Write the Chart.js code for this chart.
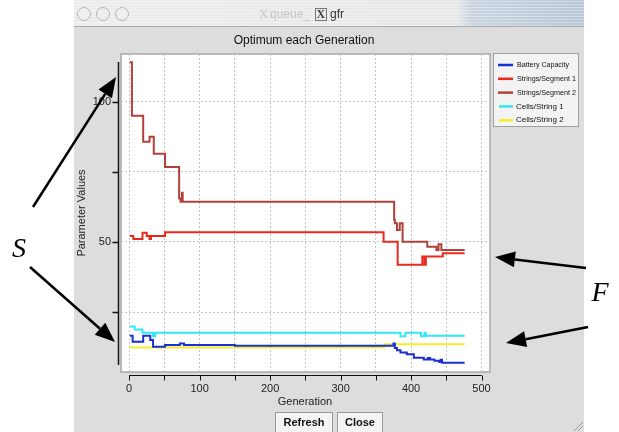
<!DOCTYPE html>
<html lang="en">
  <head>
    <meta charset="UTF-8" />
    <title>gfr</title>
    <script src="https://cdn.jsdelivr.net/npm/chart.js"></script>
    <style>
      html, body { margin: 0; padding: 0; background: #ffffff; }
      #wrap { width: 619px; height: 432px; }
    </style>
  </head>
  <body>
    <div id="wrap">
      <canvas id="gfrChart" width="619" height="432"></canvas>
    </div>
  </body>
</html>

<script>
  // Serie: Battery Capacity
  var batteryGen = [1, 5, 20, 30, 34, 51, 72, 78, 150, 375, 377, 380, 385, 394, 404, 418, 424, 427, 433, 440, 442, 444, 476];
  var batteryVal = [16.5, 14.4, 16.5, 15.0, 12.6, 13.2, 13.8, 13.2, 13.0, 13.8, 12.2, 11.4, 10.6, 9.9, 8.7, 8.1, 8.6, 8.1, 7.6, 7.2, 8.0, 6.9, 6.9];

  // Serie: Strings/Segment 1
  var seg1Gen = [1, 6, 19, 25, 29, 31, 51, 361, 381, 416, 419, 421, 445, 476];
  var seg1Val = [52.1, 51.1, 53.3, 52.1, 51.1, 52.1, 53.5, 50.1, 41.9, 44.8, 41.9, 44.8, 46.0, 46.0];

  // Serie: Strings/Segment 2
  var seg2Gen = [1, 4, 20, 29, 35, 51, 71, 73, 75, 76, 376, 377, 380, 384, 388, 423, 436, 439, 443, 476];
  var seg2Val = [114.2, 95.1, 85.8, 87.6, 81.5, 76.8, 65.5, 64.4, 67.6, 64.4, 57.9, 56.7, 54.3, 56.7, 50.1, 48.3, 47.1, 49.2, 47.1, 47.1];

  // Serie: Cells/String 1
  var cells1Gen = [1, 8, 19, 34, 37, 385, 392, 414, 419, 421, 476];
  var cells1Val = [19.8, 18.8, 17.6, 16.4, 17.6, 16.4, 17.6, 16.4, 17.6, 16.5, 16.5];

  // Serie: Cells/String 2
  var cells2Gen = [1, 362, 476];
  var cells2Val = [12.3, 13.5, 13.5];

  var xTicks = [0, 100, 200, 300, 400, 500];
  var yTicks = [50, 100];

  function pares(gens, vals) {
    return gens.map(function (g, i) { return { x: g, y: vals[i] }; });
  }

  function serie(label, gens, vals, cor) {
    return {
      label: label,
      data: pares(gens, vals),
      borderColor: cor,
      backgroundColor: cor,
      borderWidth: 2,
      pointRadius: 0,
      stepped: true,
      fill: false,
    };
  }

  function arrow(ctx, x1, y1, x2, y2) {
    var ang = Math.atan2(y2 - y1, x2 - x1);
    var len = 20, half = 8;
    var bx = x2 - len * Math.cos(ang), by = y2 - len * Math.sin(ang);
    ctx.strokeStyle = "#000";
    ctx.lineWidth = 2.5;
    ctx.beginPath();
    ctx.moveTo(x1, y1);
    ctx.lineTo(bx, by);
    ctx.stroke();
    ctx.fillStyle = "#000";
    ctx.beginPath();
    ctx.moveTo(x2, y2);
    ctx.lineTo(bx + half * Math.sin(ang), by - half * Math.cos(ang));
    ctx.lineTo(bx - half * Math.sin(ang), by + half * Math.cos(ang));
    ctx.closePath();
    ctx.fill();
  }

  function botao(ctx, x, y, w, h, txt) {
    ctx.fillStyle = "#f4f4f4";
    ctx.fillRect(x, y, w, h);
    ctx.strokeStyle = "#9a9a9a";
    ctx.lineWidth = 1;
    ctx.strokeRect(x + 0.5, y + 0.5, w - 1, h);
    ctx.fillStyle = "#111";
    ctx.font = "bold 11px 'Liberation Sans', Arial, sans-serif";
    ctx.textAlign = "center";
    ctx.textBaseline = "middle";
    ctx.fillText(txt, x + w / 2, y + 11);
  }

  // Janela, caixa do gráfico, eixos, legenda e anotações
  var janela = {
    id: "janela",
    beforeDraw: function (chart) {
      var ctx = chart.ctx, a = chart.chartArea;
      ctx.save();
      ctx.fillStyle = "#ffffff";
      ctx.fillRect(0, 0, chart.width, chart.height);

      // fundo da janela
      ctx.fillStyle = "#dddddd";
      ctx.fillRect(74, 0, 510, 432);

      // barra de título
      var g = ctx.createLinearGradient(74, 0, 584, 0);
      g.addColorStop(0, "#ececec");
      g.addColorStop(0.75, "#e8e8e8");
      g.addColorStop(0.78, "#c9d4e0");
      g.addColorStop(1, "#b8c6d6");
      ctx.fillStyle = g;
      ctx.fillRect(74, 0, 510, 26);
      ctx.fillStyle = "rgba(255,255,255,0.35)";
      for (var sy = 1; sy < 26; sy += 3) ctx.fillRect(74, sy, 510, 1);
      ctx.fillStyle = "#a9a9a9";
      ctx.fillRect(74, 26, 510, 1);

      [84, 103, 122].forEach(function (cx) {
        ctx.beginPath();
        ctx.arc(cx, 14, 6.5, 0, Math.PI * 2);
        ctx.fillStyle = "#efefef";
        ctx.fill();
        ctx.strokeStyle = "#b4b4b4";
        ctx.lineWidth = 1;
        ctx.stroke();
      });

      ctx.textBaseline = "middle";
      ctx.textAlign = "left";
      ctx.font = "13px 'Liberation Serif', serif";
      ctx.fillStyle = "#c4c4c4";
      ctx.fillText("X", 259, 15);
      ctx.font = "12px 'Liberation Sans', Arial, sans-serif";
      ctx.fillText("queue_", 270, 15);
      ctx.strokeStyle = "#777";
      ctx.strokeRect(315.5, 8.5, 11, 12);
      ctx.font = "bold 12px 'Liberation Serif', serif";
      ctx.fillStyle = "#444";
      ctx.fillText("X", 316.5, 15);
      ctx.font = "12px 'Liberation Sans', Arial, sans-serif";
      ctx.fillStyle = "#333";
      ctx.fillText("gfr", 330, 15);

      // caixa branca do gráfico
      ctx.fillStyle = "#ffffff";
      ctx.fillRect(a.left, a.top, a.right - a.left, a.bottom - a.top);
      ctx.strokeStyle = "#a8a8a8";
      ctx.lineWidth = 1.5;
      ctx.strokeRect(a.left, a.top, a.right - a.left, a.bottom - a.top);
      ctx.restore();
    },
    afterDraw: function (chart) {
      var ctx = chart.ctx, a = chart.chartArea;
      var xs = chart.scales.x, ys = chart.scales.y;
      ctx.save();

      // título
      ctx.fillStyle = "#111";
      ctx.font = "12px 'Liberation Sans', Arial, sans-serif";
      ctx.textAlign = "center";
      ctx.textBaseline = "middle";
      ctx.fillText("Optimum each Generation", 304, 41);

      // eixo x
      var yx = a.bottom + 3.5;
      ctx.strokeStyle = "#111";
      ctx.lineWidth = 1;
      ctx.beginPath();
      ctx.moveTo(xs.getPixelForValue(0), yx);
      ctx.lineTo(xs.getPixelForValue(500), yx);
      xs.ticks.forEach(function (t) {
        var px = Math.round(xs.getPixelForValue(t.value)) + 0.5;
        ctx.moveTo(px, yx);
        ctx.lineTo(px, yx + 5);
      });
      ctx.stroke();

      // eixo y
      var xy = a.left - 2.5;
      ctx.beginPath();
      ctx.moveTo(xy, a.top + 8);
      ctx.lineTo(xy, a.bottom - 7);
      ys.ticks.forEach(function (t) {
        var py = Math.round(ys.getPixelForValue(t.value)) + 0.5;
        ctx.moveTo(xy, py);
        ctx.lineTo(xy - 6, py);
      });
      ctx.lineWidth = 1.5;
      ctx.stroke();

      // títulos dos eixos
      ctx.fillStyle = "#222";
      ctx.font = "11px 'Liberation Sans', Arial, sans-serif";
      ctx.fillText("Generation", 305, 402);
      ctx.save();
      ctx.translate(82, 213);
      ctx.rotate(-Math.PI / 2);
      ctx.fillText("Parameter Values", 0, 0);
      ctx.restore();

      // legenda
      ctx.fillStyle = "#f3f3f3";
      ctx.fillRect(493, 53, 85, 73);
      ctx.strokeStyle = "#a0a0a0";
      ctx.lineWidth = 1;
      ctx.strokeRect(493.5, 53.5, 85, 73);
      ctx.textAlign = "left";
      ctx.font = "8px 'Liberation Sans', Arial, sans-serif";
      chart.data.datasets.forEach(function (ds, i) {
        var ly = 65 + i * 13.8;
        ctx.strokeStyle = ds.borderColor;
        ctx.lineWidth = 2.5;
        ctx.beginPath();
        ctx.moveTo(i < 3 ? 498 : 499, ly);
        ctx.lineTo(513, ly);
        ctx.stroke();
        ctx.fillStyle = "#111";
        ctx.fillText(ds.label, i < 3 ? 517 : 516, ly, i === 0 ? 52 : 59);
      });

      // botões
      botao(ctx, 275, 412, 58, 22, "Refresh");
      botao(ctx, 337, 412, 46, 22, "Close");

      // alça de redimensionar
      ctx.strokeStyle = "#9a9a9a";
      ctx.lineWidth = 1;
      ctx.beginPath();
      ctx.moveTo(574, 431); ctx.lineTo(583, 422);
      ctx.moveTo(578, 431); ctx.lineTo(583, 426);
      ctx.stroke();

      // anotações S e F
      ctx.fillStyle = "#000";
      ctx.font = "italic 28px 'Liberation Serif', 'Times New Roman', serif";
      ctx.textAlign = "center";
      ctx.fillText("S", 19, 250);
      ctx.fillText("F", 600, 294);
      arrow(ctx, 33, 207, 116, 77);
      arrow(ctx, 30, 267, 115, 342);
      arrow(ctx, 586, 268, 495, 257);
      arrow(ctx, 588, 327, 506, 343);
      ctx.restore();
    },
  };

  var ctxGfr = document.getElementById("gfrChart").getContext("2d");
  let graficoGfr = new Chart(ctxGfr, {
    type: "line",
    data: {
      datasets: [
        serie("Battery Capacity", batteryGen, batteryVal, "#1a2fd2"),
        serie("Strings/Segment 1", seg1Gen, seg1Val, "#e8291c"),
        serie("Strings/Segment 2", seg2Gen, seg2Val, "#b2403a"),
        serie("Cells/String 1", cells1Gen, cells1Val, "#2ee8f2"),
        serie("Cells/String 2", cells2Gen, cells2Val, "#f4ee2a"),
      ],
    },
    options: {
      responsive: false,
      animation: false,
      devicePixelRatio: 1,
      layout: { padding: { left: 73, right: 129, top: 54, bottom: 26 } },
      plugins: {
        legend: { display: false },
        tooltip: { enabled: false },
        title: { display: false },
      },
      scales: {
        x: {
          type: "linear",
          min: -11.5,
          max: 512,
          afterFit: function (s) { s.height = 34; },
          border: { display: false, dash: [2, 2] },
          grid: { color: "#c4c4c4", drawTicks: false, lineWidth: 1 },
          ticks: {
            stepSize: 50,
            includeBounds: false,
            autoSkip: false,
            maxRotation: 0,
            padding: 10,
            color: "#222",
            font: { family: "'Liberation Sans', Arial, sans-serif", size: 11 },
            callback: function (v) { return xTicks.indexOf(v) >= 0 ? String(v) : ""; },
          },
        },
        y: {
          type: "linear",
          min: 3.6,
          max: 117.1,
          afterFit: function (s) { s.width = 48; },
          border: { display: false, dash: [2, 2] },
          grid: { color: "#c4c4c4", drawTicks: false, lineWidth: 1 },
          ticks: {
            stepSize: 25,
            includeBounds: false,
            padding: 10,
            color: "#222",
            font: { family: "'Liberation Sans', Arial, sans-serif", size: 11 },
            callback: function (v) { return yTicks.indexOf(v) >= 0 ? String(v) : ""; },
          },
        },
      },
    },
    plugins: [janela],
  });
</script>
